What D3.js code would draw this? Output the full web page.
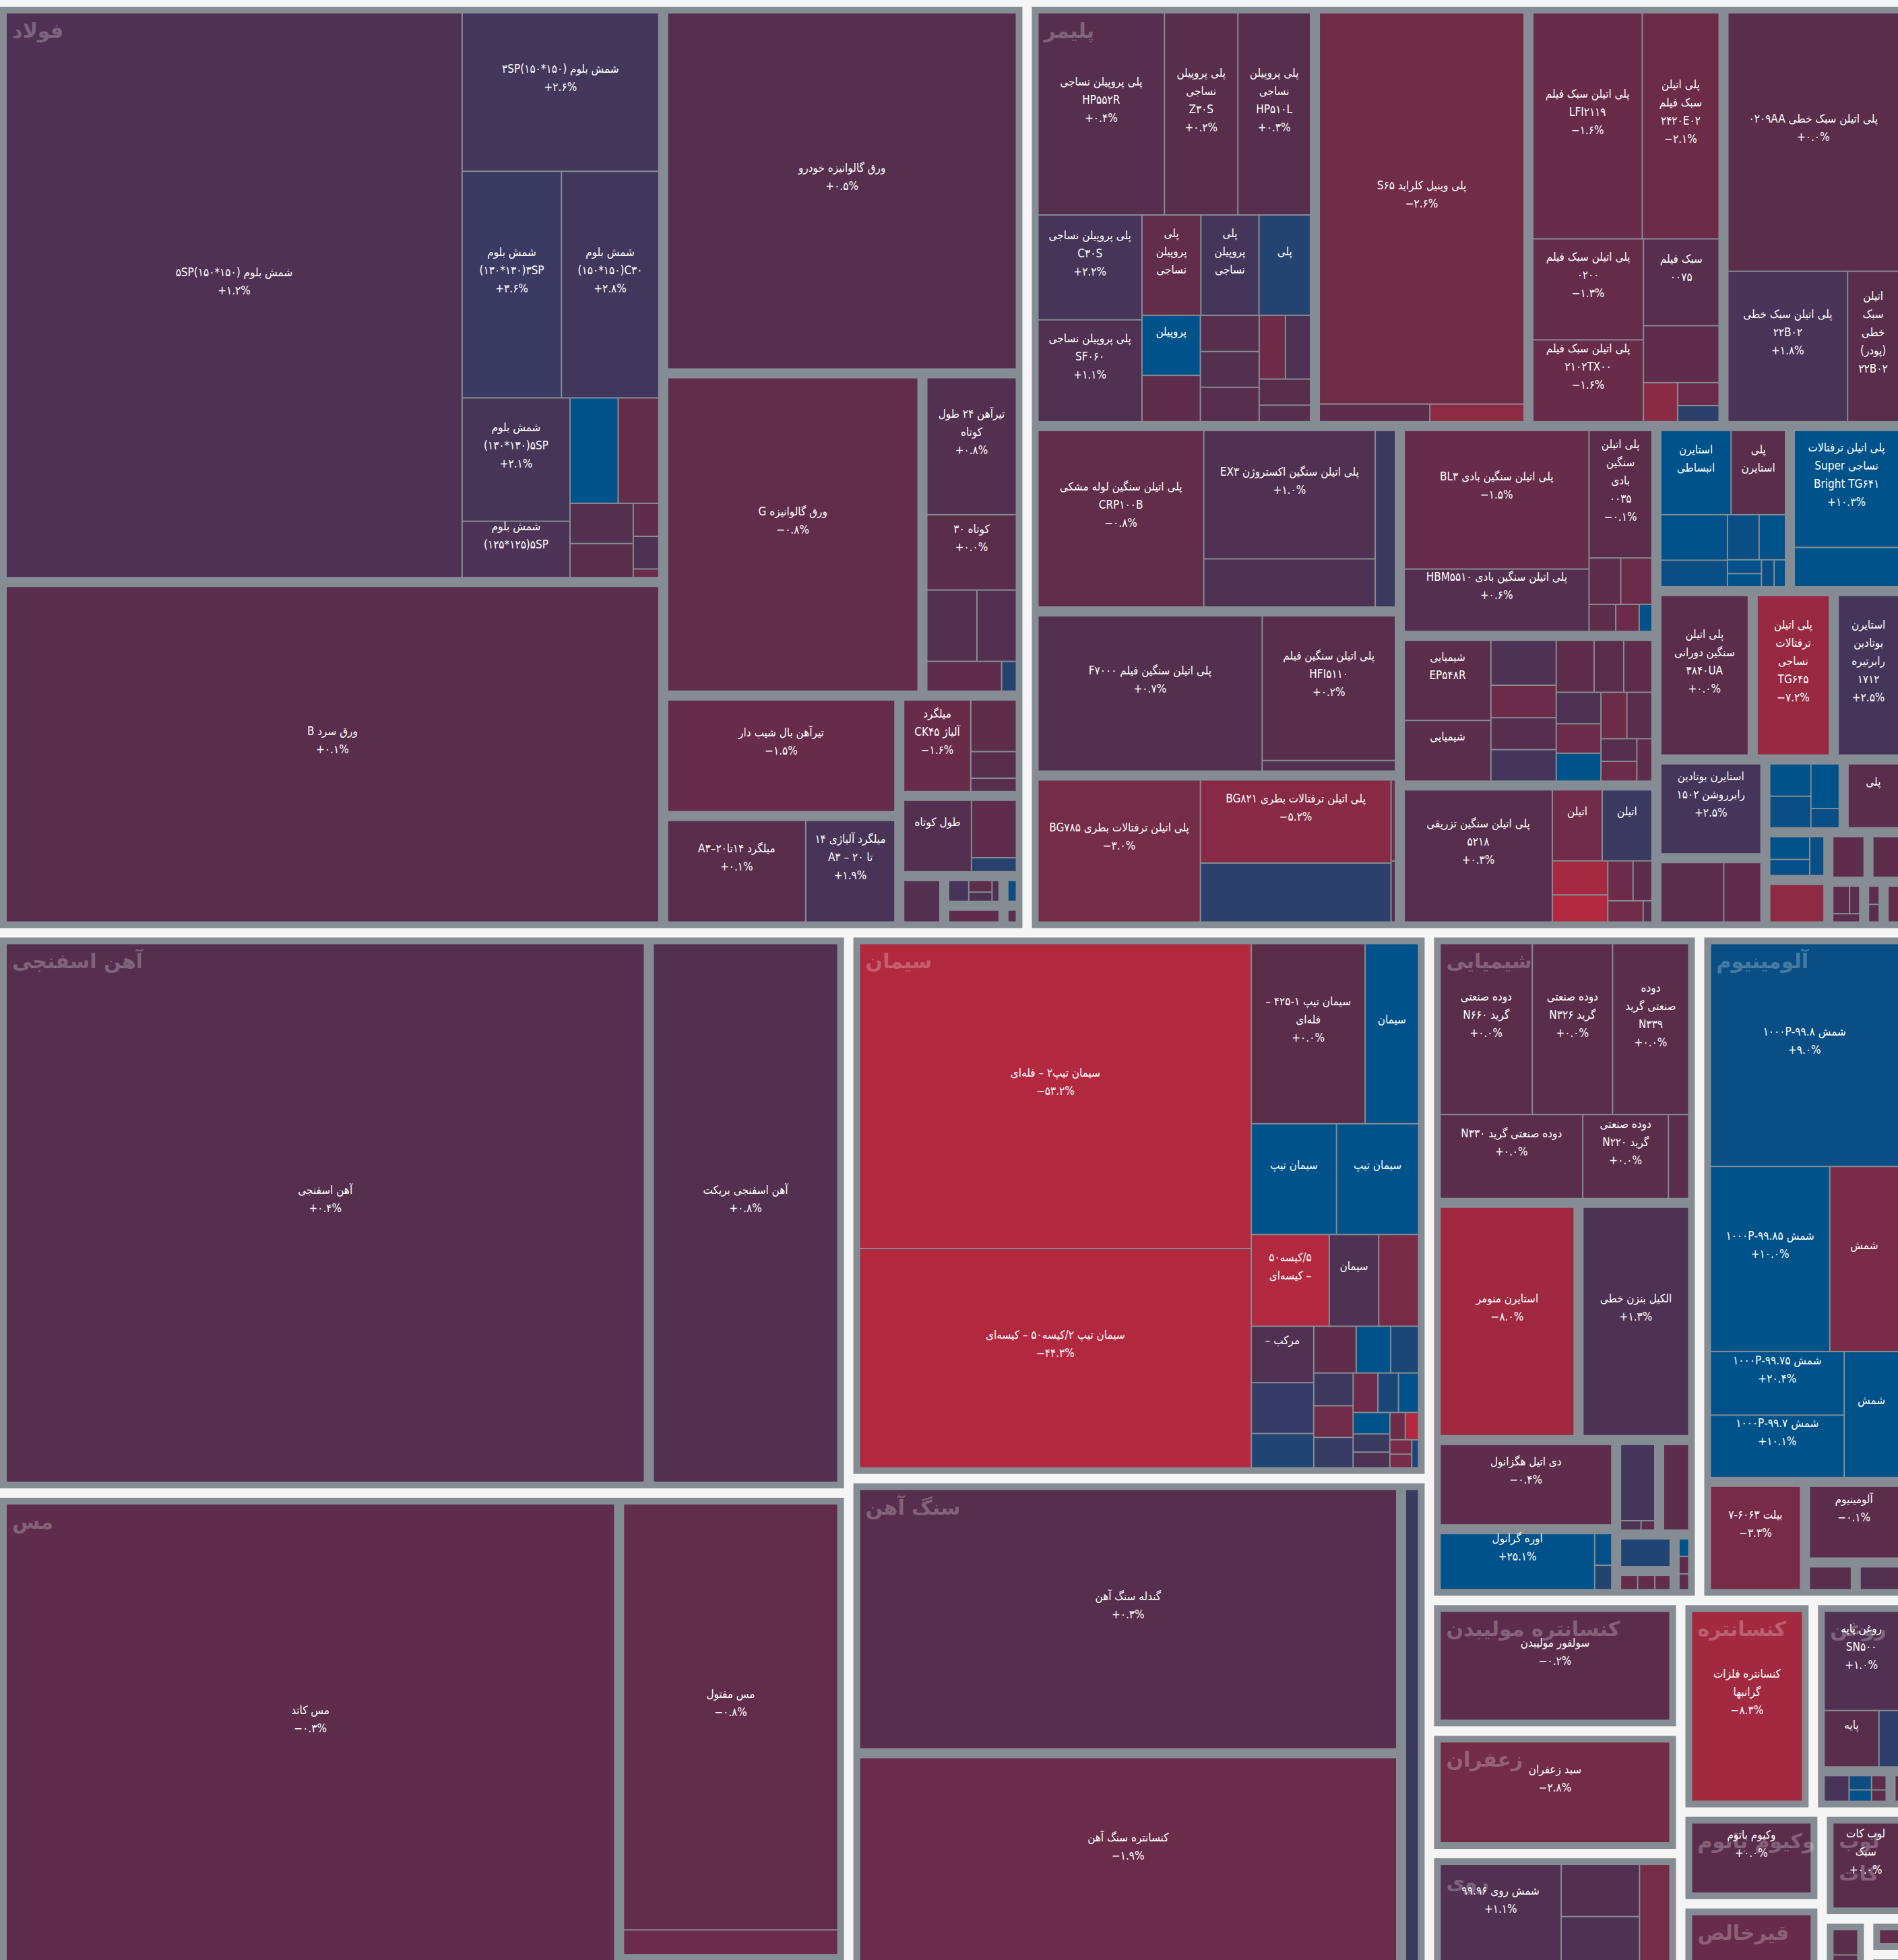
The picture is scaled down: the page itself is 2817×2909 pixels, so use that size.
<!DOCTYPE html>
<html lang="fa">
<head>
<meta charset="utf-8">
<script src="https://cdn.jsdelivr.net/npm/d3@7"></script>
<style>
  html, body { margin: 0; padding: 0; background: #f5f5f5; overflow: hidden; }
  svg { display: block; }
  .leaf-label { font-family: "DejaVu Sans Condensed", "DejaVu Sans", sans-serif; font-size: 17px; fill: #ffffff; }
  .group-label { font-family: "DejaVu Sans", sans-serif; font-weight: bold; font-size: 30px; fill: rgba(255,255,255,0.27); }
</style>
</head>
<body>
<svg id="chart" width="2817" height="2909"></svg>
<script>
// Commodity groups and their total traded value (group label lines split by "|")
const groupNames = ["فولاد", "پلیمر", "آهن اسفنجی", "مس", "سیمان", "سنگ آهن", "شیمیایی", "آلومینیوم",
  "کنسانتره مولیبدن", "زعفران", "روی", "کنسانتره", "روغن", "وکیوم باتوم", "قیرخالص", "لوب|کات",
  "سایر", "سایر", "سایر"];
const groupValues = [608361, 520182, 302834, 260057, 200739, 182259, 114272, 88761,
  20800, 19500, 19200, 17777, 12890, 8212, 6300, 5908, 1628, 924, 506];

// Each group: sub-market sizes, then products as [sub-market, label lines, size, change %, show change]
const steelSubs = [242183, 145447, 83290, 53313, 20226, 18163, 16631, 7783, 6219, 1443, 1116, 783, 326, 229];
const steelLeaves = [
  [0, "شمش بلوم (۱۵۰*۱۵۰)۵SP", 163406, 1.2, 1],
  [0, "شمش بلوم (۱۵۰*۱۵۰)۳SP", 19769, 2.6, 1],
  [0, "شمش بلوم|(۱۳۰*۱۳۰)۳SP", 14270, 3.6, 1],
  [0, "شمش بلوم|(۱۵۰*۱۵۰)C۳۰", 14000, 2.8, 1],
  [0, "شمش بلوم|(۱۳۰*۱۳۰)۵SP", 8445, 2.1, 1],
  [0, "شمش بلوم|(۱۲۵*۱۲۵)۵SP", 3856, 1.5, 0],
  [0, "", 3216, 10, 0], [0, "", 2720, -0.8, 0], [0, "", 1616, 0.8, 0], [0, "", 1365, 0.2, 0],
  [0, "", 536, -0.3, 0], [0, "", 529, 1.3, 0], [0, "", 140, -2, 0],
  [1, "ورق سرد B", 1, 0.1, 1],
  [2, "ورق گالوانیزه خودرو", 1, 0.5, 1],
  [3, "ورق گالوانیزه G", 1, -0.8, 1],
  [4, "تیرآهن ۲۴ طول|کوتاه", 7628, 0.8, 1],
  [4, "کوتاه ۳۰", 4196, 0.0, 1],
  [4, "", 2225, 0.8, 0], [4, "", 1750, 0.8, 0], [4, "", 1386, -0.4, 0], [4, "", 273, 6, 0],
  [5, "تیرآهن بال شیب دار", 1, -1.5, 1],
  [6, "میلگرد ۱۴تا۲۰–A۳", 8907, 0.1, 1],
  [6, "میلگرد آلیاژی ۱۴|تا ۲۰ – A۳", 5752, 1.9, 1],
  [7, "میلگرد|آلیاژ CK۴۵", 3792, -1.6, 1],
  [7, "", 1451, -0.5, 0], [7, "", 748, 0.2, 0], [7, "", 374, 0.3, 0],
  [8, "طول کوتاه", 3012, 0.8, 0], [8, "", 1602, -0.3, 0], [8, "", 392, 5.5, 0],
  [9, "", 1, 0.8, 0],
  [10, "", 217, 2.2, 0], [10, "", 139, -0.3, 0], [10, "", 112, 1.3, 0], [10, "", 76, 1.3, 0],
  [11, "", 1, -0.3, 0],
  [12, "", 1, 8.5, 0],
  [13, "", 1, 0.2, 0]
];

const polymerSubs = [74255, 56370, 51468, 47395, 42893, 37978, 34925, 33988, 24266, 22842, 13934, 11800,
  10241, 8624, 7367, 6801, 3598, 2731, 4698, 1901, 1254, 1081, 1851, 1011, 550, 550];
const polymerLeaves = [
  [0, "پلی پروپیلن نساجی|HP۵۵۲R", 16024, 0.4, 1],
  [0, "پلی پروپیلن|نساجی|Z۳۰S", 9300, 0.2, 1],
  [0, "پلی پروپیلن|نساجی|HP۵۱۰L", 9200, 0.3, 1],
  [0, "پلی پروپیلن نساجی|C۳۰S", 6831, 2.2, 1],
  [0, "پلی پروپیلن نساجی|SF۰۶۰", 6642, 1.1, 1],
  [0, "پلی|پروپیلن|نساجی", 3700, -0.8, 0],
  [0, "پلی|پروپیلن|نساجی", 3650, 2.5, 0],
  [0, "پلی", 3239, 6, 0],
  [0, "پروپیلن", 2198, 10, 0],
  [0, "", 1695, -0.4, 0], [0, "", 1335, 0.3, 0], [0, "", 1316, 0.8, 0], [0, "", 1269, 0.3, 0],
  [0, "", 1050, -2.3, 0], [0, "", 1000, 1.3, 0], [0, "", 840, 0.2, 0], [0, "", 533, 0.3, 0],
  [1, "پلی وینیل کلراید S۶۵", 50461, -2.6, 1],
  [1, "", 1232, -0.4, 0], [1, "", 1050, -6, 0],
  [2, "پلی اتیلن سبک فیلم|LFI۲۱۱۹", 15362, -1.6, 1],
  [2, "پلی اتیلن|سبک فیلم|۲۴۲۰E۰۲", 10798, -2.1, 1],
  [2, "پلی اتیلن سبک فیلم|۰۲۰۰", 6937, -1.3, 1],
  [2, "پلی اتیلن سبک فیلم|۲۱۰۲TX۰۰", 5623, -1.6, 1],
  [2, "سبک فیلم|۰۰۷۵", 4086, 0.3, 0],
  [2, "", 2675, -0.4, 0], [2, "", 832, -5.5, 0], [2, "", 592, -2, 0], [2, "", 416, 5, 0],
  [3, "پلی اتیلن سبک خطی ۰۲۰۹AA", 27696, 0.0, 1],
  [3, "پلی اتیلن سبک خطی|۲۲B۰۲", 11302, 1.8, 1],
  [3, "اتیلن|سبک|خطی|(پودر)|۲۲B۰۲", 4820, 0.2, 0],
  [4, "پلی اتیلن سنگین لوله مشکی|CRP۱۰۰B", 18434, -0.8, 1],
  [4, "پلی اتیلن سنگین اکستروژن EX۳", 13850, 1.0, 1],
  [4, "", 5200, 1.3, 0], [4, "", 2248, 3.5, 0],
  [5, "پلی اتیلن سنگین فیلم F۷۰۰۰", 21815, 0.7, 1],
  [5, "پلی اتیلن سنگین فیلم|HFI۵۱۱۰", 12081, 0.2, 1],
  [5, "", 887, 1, 0],
  [6, "پلی اتیلن ترفتالات بطری BG۷۸۵", 14793, -3.0, 1],
  [6, "پلی اتیلن ترفتالات بطری BG۸۲۱", 10159, -5.2, 1],
  [6, "", 7200, 5, 0], [6, "", 230, -2, 0], [6, "", 173, 0.2, 0],
  [7, "پلی اتیلن سنگین بادی BL۳", 15896, -1.5, 1],
  [7, "پلی اتیلن سنگین بادی HBM۵۵۱۰", 7158, 0.6, 1],
  [7, "پلی اتیلن|سنگین|بادی|۰۰۳۵", 4979, -0.1, 1],
  [7, "", 912, -0.3, 0], [7, "", 898, -2, 0], [7, "", 448, -0.3, 0], [7, "", 394, -2, 0], [7, "", 215, 10, 0],
  [8, "شیمیایی|EP۵۴۸R", 4196, 0.0, 0],
  [8, "شیمیایی", 3174, 0.0, 0],
  [8, "", 1775, 1.3, 0], [8, "", 1280, -2, 0], [8, "", 1256, 0.3, 0], [8, "", 1240, 2.5, 0],
  [8, "", 1190, -0.4, 0], [8, "", 931, 0.2, 0], [8, "", 888, -0.4, 0], [8, "", 850, 1.3, 0],
  [8, "", 792, -2, 0], [8, "", 752, 10, 0], [8, "", 726, -2.2, 0], [8, "", 703, 0.2, 0],
  [8, "", 490, 0.3, 0], [8, "", 429, -2, 0], [8, "", 386, -0.3, 0],
  [9, "پلی اتیلن سنگین تزریقی|۵۲۱۸", 12036, 0.3, 1],
  [9, "اتیلن", 2180, -2.5, 0], [9, "اتیلن", 2170, 3.5, 0],
  [9, "", 1161, -8.5, 0], [9, "", 925, -10, 0], [9, "", 620, -2, 0], [9, "", 465, -0.3, 0],
  [9, "", 462, -2.5, 0], [9, "", 115, 0.2, 0],
  [10, "استایرن|انبساطی", 3575, 10, 0],
  [10, "پلی|استایرن", 2769, 0.2, 0],
  [10, "", 1836, 10, 0], [10, "", 1071, 9, 0], [10, "", 861, 9, 0], [10, "", 721, 10, 0],
  [10, "", 284, 10, 0], [10, "", 270, 10, 0], [10, "", 206, 9, 0], [10, "", 187, 10, 0],
  [11, "پلی اتیلن ترفتالات|نساجی Super|Bright TG۶۴۱", 7599, 10.3, 1],
  [11, "", 2561, 10, 0],
  [12, "پلی اتیلن|سنگین دورانی|۳۸۴۰UA", 1, 0.0, 1],
  [13, "پلی اتیلن|ترفتالات|نساجی|TG۶۴۵", 1, -7.2, 1],
  [14, "استایرن|بوتادین|رابرتیره|۱۷۱۲", 1, 2.5, 1],
  [15, "استایرن بوتادین|رابرروشن ۱۵۰۲", 1, 2.5, 1],
  [16, "", 806, 10, 0], [16, "", 788, 9, 0], [16, "", 766, 10, 0], [16, "", 332, 9, 0],
  [17, "پلی", 1, 0.2, 0],
  [18, "", 2330, 0, 0], [18, "", 1378, -0.3, 0],
  [19, "", 551, 10, 0], [19, "", 387, 9.5, 0], [19, "", 335, 9, 0],
  [20, "", 1, -0.3, 0],
  [21, "", 1, -0.3, 0],
  [22, "", 1, -6, 0],
  [23, "", 290, -0.4, 0], [23, "", 175, -0.3, 0], [23, "", 140, 0.2, 0],
  [24, "", 110, -0.4, 0], [24, "", 106, 0.2, 0],
  [25, "", 1, -1, 0]
];

const spongeSubs = [225459, 67406];
const spongeLeaves = [[0, "آهن اسفنجی", 1, 0.4, 1], [1, "آهن اسفنجی بریکت", 1, 0.8, 1]];

const copperSubs = [186392, 66127, 1250];
const copperLeaves = [[0, "مس کاتد", 1, -0.3, 1], [1, "مس مفتول", 58790, -0.8, 1], [1, "", 3420, -2, 0], [2, "", 1, -1, 0]];

const cementSubs = [1];
const cementLeaves = [
  [0, "سیمان تیپ۲ – فله‌ای", 74886, -53.2, 1],
  [0, "سیمان تیپ ۲/کیسه۵۰ – کیسه‌ای", 53860, -44.3, 1],
  [0, "سیمان تیپ ۱-۴۲۵ –|فله‌ای", 12858, 0.0, 1],
  [0, "سیمان", 6033, 10, 0],
  [0, "سیمان تیپ", 5918, 10, 0],
  [0, "سیمان تیپ", 5695, 10, 0],
  [0, "۵/کیسه۵۰|– کیسه‌ای", 4486, -10, 0],
  [0, "سیمان", 2841, 1.3, 0],
  [0, "", 2293, -3.3, 0],
  [0, "مرکب –", 2208, 1, 0],
  [0, "", 1992, 4, 0], [0, "", 1344, 6.5, 0], [0, "", 1242, -0.4, 0], [0, "", 1008, 10, 0],
  [0, "", 817, 7, 0], [0, "", 810, 3, 0], [0, "", 780, -2.5, 0], [0, "", 750, 4, 0],
  [0, "", 614, -2, 0], [0, "", 512, 7, 0], [0, "", 497, 10, 0], [0, "", 496, 10, 0],
  [0, "", 419, 3.5, 0], [0, "", 362, 1.3, 0], [0, "", 263, -2.2, 0], [0, "", 227, -10, 0],
  [0, "", 197, -3.5, 0], [0, "", 187, -3.5, 0], [0, "", 120, 7, 0]
];

const ironOreSubs = [95910, 76728, 6907];
const ironOreLeaves = [[0, "گندله سنگ آهن", 1, 0.3, 1], [1, "کنسانتره سنگ آهن", 1, -1.9, 1], [2, "", 1, 3.5, 0]];

const chemSubs = [43500, 21716, 17426, 10308, 7497, 2602, 2057, 1365, 710, 865];
const chemLeaves = [
  [0, "دوده صنعتی|گرید N۶۶۰", 9749, 0.0, 1],
  [0, "دوده صنعتی|گرید N۳۲۶", 8499, 0.0, 1],
  [0, "دوده|صنعتی گرید|N۳۳۹", 8060, 0.0, 1],
  [0, "دوده صنعتی گرید N۳۳۰", 7412, 0.0, 1],
  [0, "دوده صنعتی|گرید N۲۲۰", 4453, 0.0, 1],
  [0, "", 1058, 0.0, 0],
  [1, "استایرن منومر", 1, -8.0, 1],
  [2, "الکیل بنزن خطی", 1, 1.3, 1],
  [3, "دی اتیل هگزانول", 1, -0.4, 1],
  [4, "اوره گرانول", 5507, 25.1, 1], [4, "", 344, 9.5, 0], [4, "", 265, 6, 0],
  [5, "", 1625, 2.5, 0], [5, "", 120, 1.3, 0], [5, "", 80, -0.3, 0],
  [6, "", 1, -0.3, 0],
  [7, "", 1, 6.5, 0],
  [8, "", 86, 10, 0], [8, "", 86, -0.3, 0], [8, "", 77, -0.3, 0],
  [9, "", 120, -1, 0], [9, "", 120, -1, 0], [9, "", 108, -1, 0]
];

const aluSubs = [69875, 7252, 5167, 1049, 976];
const aluLeaves = [
  [0, "شمش ۹۹.۸-۱۰۰۰P", 27049, 9.0, 1],
  [0, "شمش ۹۹.۸۵-۱۰۰۰P", 14245, 10.0, 1],
  [0, "شمش", 8215, -3.5, 0],
  [0, "شمش ۹۹.۷۵-۱۰۰۰P", 5487, 20.4, 1],
  [0, "شمش ۹۹.۷-۱۰۰۰P", 5378, 10.1, 1],
  [0, "شمش", 4425, 10, 0],
  [1, "بیلت ۶۰۶۳-۷", 1, -3.3, 1],
  [2, "آلومینیوم", 1, -0.1, 1],
  [3, "", 1, 0.2, 0],
  [4, "", 1, 0.8, 0]
];

const molybSubs = [1];
const molybLeaves = [[0, "سولفور مولیبدن", 1, -0.2, 1]];
const saffronSubs = [1];
const saffronLeaves = [[0, "سبد زعفران", 1, -2.8, 1]];
const zincSubs = [1];
const zincLeaves = [[0, "شمش روی ۹۹.۹۶", 8072, 1.1, 1], [0, "", 2754, 0.8, 0], [0, "", 2467, 1.2, 0], [0, "", 2026, -3, 0]];
const concSubs = [1];
const concLeaves = [[0, "کنسانتره فلزات|گرانبها", 1, -8.3, 1]];
const oilSubs = [9564, 1704, 300];
const oilLeaves = [
  [0, "روغن پایه|SN۵۰۰", 5100, 1.0, 1], [0, "پایه", 2130, 0.2, 0], [0, "", 765, 5, 0],
  [1, "", 415, 2, 0], [1, "", 207, 8.5, 0], [1, "", 166, 10, 0], [1, "", 135, -0.3, 0], [1, "", 108, -0.3, 0],
  [2, "", 1, 0, 0]
];
const vacuumSubs = [1];
const vacuumLeaves = [[0, "وکیوم باتوم", 1, 0.0, 1]];
const bitumenSubs = [1];
const bitumenLeaves = [[0, "", 1, -1.5, 0]];
const lubeSubs = [1];
const lubeLeaves = [[0, "لوب کات|سبک", 1, 0.0, 1]];
const otherASubs = [1];
const otherALeaves = [[0, "", 900, 0, 0], [0, "", 300, 0.2, 0]];
const otherBSubs = [1];
const otherBLeaves = [[0, "", 1, -0.8, 0]];
const otherCSubs = [1];
const otherCLeaves = [[0, "", 1, -2, 0]];

const groupParts = [
  [steelSubs, steelLeaves], [polymerSubs, polymerLeaves], [spongeSubs, spongeLeaves], [copperSubs, copperLeaves],
  [cementSubs, cementLeaves], [ironOreSubs, ironOreLeaves], [chemSubs, chemLeaves], [aluSubs, aluLeaves],
  [molybSubs, molybLeaves], [saffronSubs, saffronLeaves], [zincSubs, zincLeaves], [concSubs, concLeaves],
  [oilSubs, oilLeaves], [vacuumSubs, vacuumLeaves], [bitumenSubs, bitumenLeaves], [lubeSubs, lubeLeaves],
  [otherASubs, otherALeaves], [otherBSubs, otherBLeaves], [otherCSubs, otherCLeaves]
];

// ---- hierarchy: group -> sub-market -> product ----
const tree = {
  name: "root",
  children: groupNames.map((gName, gi) => {
    const [subs, leaves] = groupParts[gi];
    const subTotal = d3.sum(subs);
    return {
      name: gName,
      children: subs.map((sv, si) => {
        const items = leaves.filter(l => l[0] === si);
        const itemTotal = d3.sum(items, l => l[2]);
        return {
          name: gName + "-" + si,
          children: items.map(l => ({
            label: l[1],
            value: groupValues[gi] * (sv / subTotal) * (l[2] / itemTotal),
            change: l[3],
            showPct: l[4] === 1
          }))
        };
      })
    };
  })
};

const W = 2827, H = 2913;
const root = d3.hierarchy(tree)
  .sum(d => d.value || 0)
  .sort((a, b) => b.value - a.value);

d3.treemap()
  .tile(d3.treemapSquarify)
  .size([W, H])
  .paddingInner(d => d.depth === 0 ? 14 : d.depth === 1 ? 15 : 2)
  .paddingOuter(d => d.depth === 1 ? 10 : 0)
  (root);

const color = d3.scaleLinear()
  .domain([-10, 0, 10])
  .range(["#b2283f", "#5a2d4b", "#00528b"])
  .clamp(true);

const faDigits = s => s.replace(/\d/g, d => "۰۱۲۳۴۵۶۷۸۹"[+d]);
const pctText = v => (v < 0 ? "−" : "+") + faDigits(Math.abs(v).toFixed(1)) + "%";
const baseDir = s => {
  for (const c of s) {
    if (/[\u0600-\u065F\u066A-\u06EF\u06FA-\u06FF\u0750-\u077F\uFB50-\uFDFF\uFE70-\uFEFF]/.test(c)) return "rtl";
    if (/[A-Za-z]/.test(c)) return "ltr";
  }
  return "ltr";
};

const svg = d3.select("#chart");
const g = svg.append("g").attr("transform", "translate(0,10)");

// group frames
g.selectAll("rect.group")
  .data(root.children)
  .join("rect")
  .attr("class", "group")
  .attr("x", d => d.x0).attr("y", d => d.y0)
  .attr("width", d => Math.max(0, d.x1 - d.x0))
  .attr("height", d => Math.max(0, d.y1 - d.y0))
  .attr("fill", "#868c93");

// product cells
const leaves = root.leaves().filter(d => d.x1 > d.x0 && d.y1 > d.y0);
g.selectAll("rect.leaf")
  .data(leaves)
  .join("rect")
  .attr("class", "leaf")
  .attr("x", d => d.x0).attr("y", d => d.y0)
  .attr("width", d => d.x1 - d.x0)
  .attr("height", d => d.y1 - d.y0)
  .attr("fill", d => color(d.data.change));

// group titles, top-left of each group
const groupLabel = g.append("g");
root.children.forEach(node => {
  const w = node.x1 - node.x0;
  if (w < 100) return;
  const lines = node.data.name.split("|");
  lines.forEach((line, i) => {
    groupLabel.append("text")
      .attr("class", "group-label")
      .attr("x", node.x0 + 18)
      .attr("y", node.y0 + 46 + i * 48)
      .text(line);
  });
});

// product labels: name lines plus change line, block centred slightly above the middle
const labelLayer = g.append("g");
leaves.forEach(d => {
  if (!d.data.label) return;
  const lines = d.data.label.split("|");
  if (d.data.showPct) lines.push(pctText(d.data.change));
  const cx = (d.x0 + d.x1) / 2;
  const cy = (d.y0 + d.y1) / 2 - 21;
  const lh = 27;
  lines.forEach((line, i) => {
    labelLayer.append("text")
      .attr("class", "leaf-label")
      .attr("x", cx)
      .attr("y", cy + (i - (lines.length - 1) / 2) * lh)
      .attr("text-anchor", "middle")
      .attr("dominant-baseline", "central")
      .attr("direction", baseDir(line))
      .text(line);
  });
});
</script>
</body>
</html>
